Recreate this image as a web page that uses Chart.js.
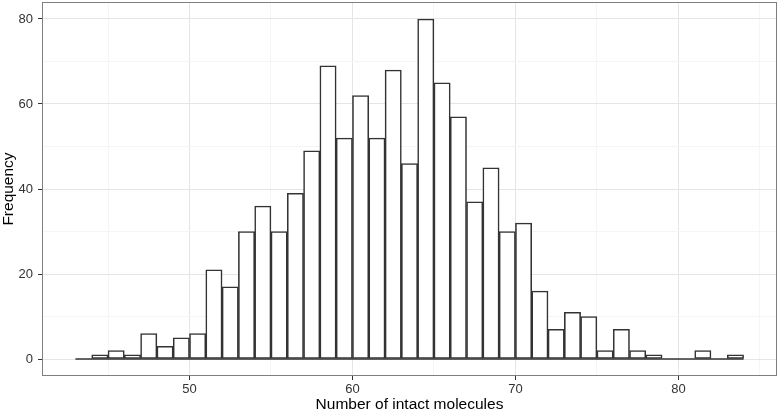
<!DOCTYPE html>
<html>
<head>
<meta charset="utf-8">
<script src="https://cdn.jsdelivr.net/npm/chart.js@4.4.1/dist/chart.umd.min.js"></script>
<style>
  html, body { margin: 0; padding: 0; background: #fff; }
</style>
</head>
<body>
<canvas id="hist-chart" width="780" height="413"></canvas>
<script>
// bin left edges (binwidth 1) and counts
var binStarts = [43, 44, 45, 46, 47, 48, 49, 50, 51, 52, 53, 54, 55, 56, 57, 58, 59, 60, 61, 62, 63,
                 64, 65, 66, 67, 68, 69, 70, 71, 72, 73, 74, 75, 76, 77, 78, 79, 80, 81, 82, 83];
var counts = [0, 1, 2, 1, 6, 3, 5, 6, 21, 17, 30, 36, 30, 39, 49, 69, 52, 62, 52, 68, 46,
              80, 65, 57, 37, 45, 30, 32, 16, 7, 11, 10, 2, 7, 2, 1, 0, 0, 2, 0, 1];
var xTickLabels = [50, 60, 70, 80];
var yTickLabels = [0, 20, 40, 60, 80];

var binWidth = 1;
var xLo = binStarts[0], xHi = binStarts[binStarts.length - 1] + binWidth;
var xPad = (xHi - xLo) * 0.05;
var yMaxData = Math.max.apply(null, counts);
var yPad = yMaxData * 0.05;

var barPoints = binStarts.map(function(b, i) { return { x: b + binWidth / 2, y: counts[i] }; });

var fontFam = '"Liberation Sans", Arial, Helvetica, sans-serif';

// grey panel border like theme_bw
var panelBorder = {
  id: 'panelBorder',
  afterDraw: function(chart) {
    var a = chart.chartArea, c = chart.ctx;
    c.save();
    c.strokeStyle = '#7f7f7f';
    c.lineWidth = 1;
    c.strokeRect(a.left + 0.5, a.top + 0.5, a.right - a.left - 1, a.bottom - a.top - 1);
    c.restore();
  }
};

function gridColor(ctx, majors) {
  if (!ctx.tick) return 'rgba(0,0,0,0)';
  return majors.indexOf(ctx.tick.value) >= 0 ? '#e5e5e5' : '#f5f5f5';
}
function tickMarkColor(ctx, majors) {
  if (!ctx.tick) return 'rgba(0,0,0,0)';
  return majors.indexOf(ctx.tick.value) >= 0 ? '#333333' : 'rgba(0,0,0,0)';
}

var histCanvas = document.getElementById('hist-chart').getContext('2d');
var histChart = new Chart(histCanvas, {
  type: 'bar',
  data: {
    datasets: [{
      type: 'line',
      data: [{ x: xLo, y: 0 }, { x: xHi, y: 0 }],
      borderColor: '#333333',
      borderWidth: 1.6,
      pointRadius: 0,
      order: 0
    }, {
      data: barPoints,
      backgroundColor: '#ffffff',
      borderColor: '#333333',
      borderWidth: 1.6,
      borderSkipped: false,
      barPercentage: 1,
      categoryPercentage: 1,
      order: 1
    }]
  },
  options: {
    responsive: false,
    animation: false,
    layout: { padding: { left: 0, top: 2, right: 3, bottom: 0 } },
    plugins: { legend: { display: false }, tooltip: { enabled: false } },
    scales: {
      x: {
        type: 'linear',
        offset: false,
        min: xLo - xPad,
        max: xHi + xPad,
        afterBuildTicks: function(scale) {
          var t = [];
          for (var v = 45; v <= scale.max; v += 5) t.push({ value: v });
          scale.ticks = t;
        },
        afterFit: function(scale) {
          scale.height = 37;
          scale.paddingLeft = 0;
          scale.paddingRight = 0;
        },
        border: { display: false },
        grid: {
          offset: false,
          color: function(ctx) { return gridColor(ctx, xTickLabels); },
          tickColor: function(ctx) { return tickMarkColor(ctx, xTickLabels); },
          tickLength: 4,
          lineWidth: 1
        },
        ticks: {
          autoSkip: false,
          maxRotation: 0,
          padding: 3,
          color: '#333333',
          font: { family: fontFam, size: 13, lineHeight: 1 },
          callback: function(v) { return xTickLabels.indexOf(v) >= 0 ? String(v) : ''; }
        },
        title: {
          display: true,
          text: 'Number of intact molecules',
          color: '#000000',
          font: { family: fontFam, size: 15.5, lineHeight: 1 },
          padding: { top: 0, bottom: 1 }
        }
      },
      y: {
        min: -yPad,
        max: yMaxData + yPad,
        afterBuildTicks: function(scale) {
          var t = [];
          for (var v = 0; v <= scale.max; v += 10) t.push({ value: v });
          scale.ticks = t;
        },
        afterFit: function(scale) {
          scale.width = 42;
          scale.paddingTop = 0;
          scale.paddingBottom = 0;
        },
        border: { display: false },
        grid: {
          color: function(ctx) { return gridColor(ctx, yTickLabels); },
          tickColor: function(ctx) { return tickMarkColor(ctx, yTickLabels); },
          tickLength: 4,
          lineWidth: 1
        },
        ticks: {
          autoSkip: false,
          padding: 5,
          color: '#333333',
          font: { family: fontFam, size: 13 },
          callback: function(v) { return yTickLabels.indexOf(v) >= 0 ? String(v) : ''; }
        },
        title: {
          display: true,
          text: 'Frequency',
          color: '#000000',
          font: { family: fontFam, size: 15.5, lineHeight: 1 },
          padding: { top: 1, bottom: 0 }
        }
      }
    }
  },
  plugins: [panelBorder]
});
</script>
</body>
</html>
